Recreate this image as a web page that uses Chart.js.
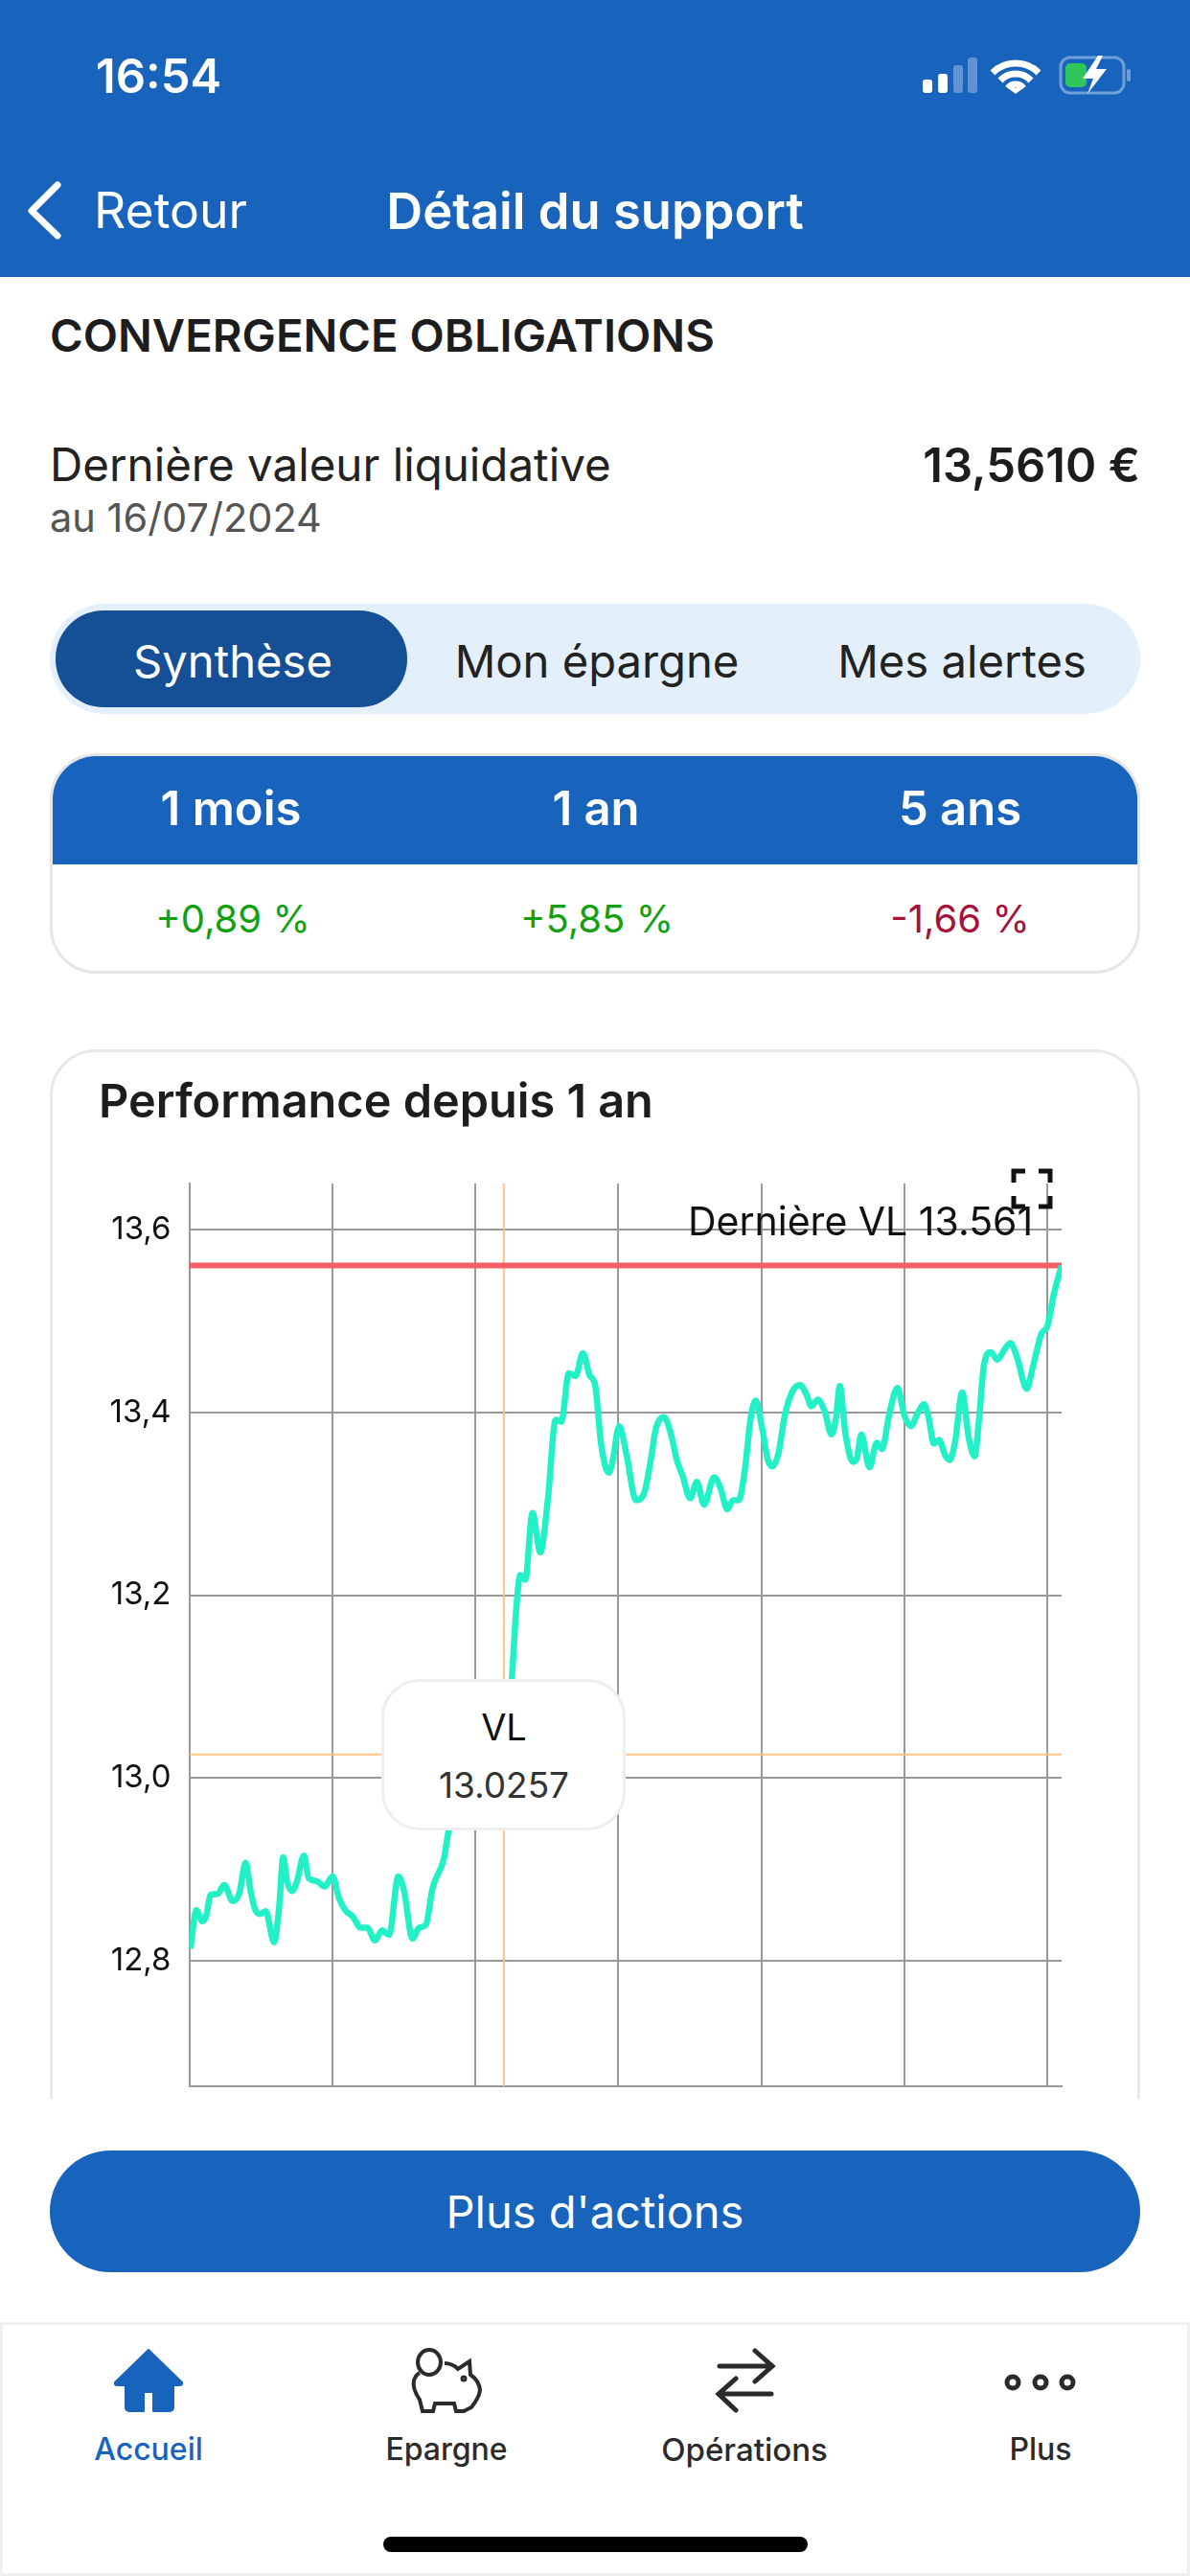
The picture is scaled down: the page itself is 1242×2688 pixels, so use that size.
<!DOCTYPE html>
<html lang="fr">
<head>
<meta charset="utf-8">
<title>Détail du support</title>
<script src="https://cdn.jsdelivr.net/npm/chart.js@4/dist/chart.umd.min.js"></script>
<style>
  html, body { margin: 0; padding: 0; background: #fff; }
  body { width: 1242px; height: 2688px; position: relative; overflow: hidden; font-family: Inter, "Noto Sans", sans-serif; color: #222; }
  .abs { position: absolute; white-space: nowrap; line-height: 1; }
  .mid { transform: translate(-50%, -50%); }
  .vmid { transform: translateY(-50%); }
  .box { position: absolute; box-sizing: border-box; }
  svg { position: absolute; overflow: visible; }
  #chartCanvas { position: absolute; left: 60px; top: 1205px; }
</style>
</head>
<body>
  <!-- header -->
  <div class="box" style="left:0;top:0;width:1242px;height:289px;background:#1864bc"></div>
  <div class="abs vmid" style="left:100px;top:79px;font-size:49px;font-weight:600;color:#fff">16:54</div>
  <svg style="left:0;top:0" width="1242" height="289">
    <rect x="963" y="83" width="10" height="14" rx="3" fill="#fff"/>
    <rect x="979" y="77" width="10" height="20" rx="3" fill="#fff"/>
    <rect x="995" y="68" width="10" height="29" rx="3" fill="#5f93d2"/>
    <rect x="1010" y="60" width="10" height="37" rx="3" fill="#5f93d2"/>
    <path d="M1036 76 a34 34 0 0 1 48 0 M1044 84 a22 22 0 0 1 32 0 M1052 92 a10 10 0 0 1 16 0" fill="none" stroke="#fff" stroke-width="7"/>
    <path d="M1053 96 h14 l-7 0 z M1052 92 l8 6 l8 -6 z" fill="#fff"/>
    <rect x="1107" y="60" width="66" height="37" rx="10" fill="none" stroke="#6f9fd8" stroke-width="3"/>
    <rect x="1176" y="72" width="4" height="13" rx="2" fill="#6f9fd8"/>
    <rect x="1112" y="66" width="22" height="25" rx="5" fill="#2fc65a"/>
    <path d="M1146 58 l-16 24 h11 l-6 16 l20 -26 h-11 l7 -14 z" fill="#fff"/>
    <path d="M60 193 L33 220 L60 246" fill="none" stroke="#fff" stroke-width="7" stroke-linecap="round" stroke-linejoin="round"/>
  </svg>
  <div class="abs vmid" style="left:98px;top:220px;font-size:51.7px;color:#fff">Retour</div>
  <div class="abs mid" style="left:621px;top:220px;font-size:52.5px;font-weight:600;color:#fff">Détail du support</div>

  <!-- fund header -->
  <div class="abs vmid" style="left:52px;top:350px;font-size:47.2px;font-weight:600;color:#1d1d1f">CONVERGENCE OBLIGATIONS</div>
  <div class="abs vmid" style="left:52px;top:485px;font-size:47.5px;color:#222">Dernière valeur liquidative</div>
  <div class="abs vmid" style="left:52px;top:541px;font-size:41.5px;color:#555">au 16/07/2024</div>
  <div class="abs vmid" style="right:52px;top:485px;font-size:49px;font-weight:600;color:#1d1d1f">13,5610 €</div>

  <!-- segmented control -->
  <div class="box" style="left:52px;top:630px;width:1138px;height:115px;border-radius:58px;background:#e3effb"></div>
  <div class="box" style="left:58px;top:637px;width:367px;height:101px;border-radius:50px;background:#154f96"></div>
  <div class="abs mid" style="left:243px;top:690px;font-size:47.2px;color:#fff">Synthèse</div>
  <div class="abs mid" style="left:623px;top:690px;font-size:47.2px;color:#222">Mon épargne</div>
  <div class="abs mid" style="left:1004px;top:690px;font-size:47.2px;color:#222">Mes alertes</div>

  <!-- performance table -->
  <div class="box" style="left:52px;top:786px;width:1138px;height:230px;border-radius:48px;border:3px solid #e6e6e6;overflow:hidden;background:#fff">
    <div style="position:absolute;left:-3px;top:-3px;width:1138px;height:116px;background:#1864bc"></div>
  </div>
  <div class="abs mid" style="left:241px;top:843px;font-size:49px;font-weight:600;color:#fff">1 mois</div>
  <div class="abs mid" style="left:622px;top:843px;font-size:49px;font-weight:600;color:#fff">1 an</div>
  <div class="abs mid" style="left:1002px;top:843px;font-size:49px;font-weight:600;color:#fff">5 ans</div>
  <div class="abs mid" style="left:243px;top:959px;font-size:40px;color:#12a012">+0,89 %</div>
  <div class="abs mid" style="left:623px;top:959px;font-size:40px;color:#12a012">+5,85 %</div>
  <div class="abs mid" style="left:1002px;top:959px;font-size:40px;color:#a5123a">-1,66 %</div>

  <!-- chart card, the bottom border is cut by the scroll area -->
  <div class="box" style="left:52px;top:1095px;width:1138px;height:1095px;overflow:hidden">
    <div class="box" style="left:0;top:0;width:1138px;height:1200px;border-radius:48px;border:3px solid #e8e8e8"></div>
  </div>
  <div class="abs vmid" style="left:103px;top:1149px;font-size:48.6px;font-weight:600;color:#1d1d1f">Performance depuis 1 an</div>

  <canvas id="chartCanvas" width="1060" height="995"></canvas>

  <div class="abs" id="lastLabel" style="left:718px;top:1254px;font-size:41px;color:#111"></div>
  <svg style="left:0;top:0" width="1242" height="1300">
    <path d="M1058 1234 V1222 H1070 M1084 1222 H1096 V1234 M1096 1248 V1259 H1084 M1070 1259 H1058 V1248" fill="none" stroke="#111" stroke-width="5"/>
  </svg>

  <!-- crosshair tooltip -->
  <div class="box" style="left:398px;top:1752px;width:255px;height:158px;border-radius:40px;background:#fff;border:3px solid #eee"></div>
  <div class="abs mid" style="left:526px;top:1802px;font-size:38px;color:#111">VL</div>
  <div class="abs mid" id="tipValue" style="left:526px;top:1862px;font-size:37px;color:#333"></div>

  <!-- action button -->
  <div class="box" style="left:52px;top:2244px;width:1138px;height:127px;border-radius:64px;background:#1864bc"></div>
  <div class="abs mid" style="left:621px;top:2307px;font-size:47px;color:#fff">Plus d'actions</div>

  <!-- tab bar -->
  <div class="box" style="left:0;top:2423px;width:1242px;height:265px;border:3px solid #f0f0f0;background:#fff"></div>
  <svg style="left:0;top:2400px" width="1242" height="288">
    <path d="M155 52 L190 86 Q191 89 187 89 H181 V112 Q181 116 176 116 H160 V96 H150 V116 H136 Q131 116 131 112 V89 H123 Q119 89 120 86 Z" fill="#1864bc" stroke="#1864bc" stroke-width="2" stroke-linejoin="round"/>
    <g fill="none" stroke="#2b2b2b" stroke-width="4">
      <ellipse cx="448" cy="65" rx="12" ry="13"/>
      <path d="M464 66 Q472 66 478 72 L490 64 L491 78 Q500 84 501 94 Q500 102 492 112 L484 116 H476 L474 108 H454 L452 116 H441 L438 104 Q430 92 432 84 Q434 78 438 76"/>
      <circle cx="484" cy="82" r="1.5"/>
    </g>
    <g fill="none" stroke="#2b2b2b" stroke-width="5" stroke-linecap="round">
      <path d="M751 69 H806 M788 53 L806 69 L788 85"/>
      <path d="M805 98 H750 M768 82 L750 98 L768 115"/>
    </g>
    <g fill="none" stroke="#2b2b2b" stroke-width="5">
      <circle cx="1057" cy="86" r="6"/><circle cx="1086" cy="86" r="6"/><circle cx="1114" cy="86" r="6"/>
    </g>
  </svg>
  <div class="abs mid" style="left:155px;top:2556px;font-size:32px;font-weight:500;color:#1864bc">Accueil</div>
  <div class="abs mid" style="left:466px;top:2556px;font-size:32px;font-weight:500;color:#2b2b2b">Epargne</div>
  <div class="abs mid" style="left:777px;top:2556px;font-size:33px;font-weight:500;color:#2b2b2b">Opérations</div>
  <div class="abs mid" style="left:1086px;top:2556px;font-size:32px;font-weight:500;color:#2b2b2b">Plus</div>
  <div class="box" style="left:400px;top:2647px;width:443px;height:16px;border-radius:8px;background:#000"></div>

<script>
// values, days since the start of the 1 year window
const days = [
  0.5, 3, 5.5, 7, 9, 12, 14.6, 18.2, 21, 23.6, 25.7, 27.7, 29.6, 32, 35.5, 37.6, 39.3, 41, 43, 45,
  48, 50, 53.4, 56.6, 60, 62.6, 65.3, 68.5, 71.7, 74.5, 77.7, 80.7, 83.6, 87.5, 89.9, 93.4, 96.2, 99, 101.8, 106.5,
  108.6, 113, 120, 126, 131.6, 135, 136.8, 138.5, 140.6, 143.6, 146.9, 150.1, 153.3, 155.7, 158.8, 161.7, 164.7, 167.5, 169.9, 172.3,
  175.5, 177, 179.9, 183.1, 186.9, 190.5, 192.9, 195.3, 198.6, 201.6, 204, 206.4, 209.6, 212.4, 215.4, 219.6, 222.3, 225.1, 227.5, 229.9,
  232.5, 234.9, 237, 239.7, 242.1, 244.1, 246.5, 249.2, 252.4, 255.5, 258.2, 260.3, 263, 265.9, 268.7, 270.6, 272.2, 274.6, 277.7, 279.3,
  281.2, 284.6, 287.7, 289.9, 292.8, 296.3, 299.2, 302, 304.7, 307.4, 309.4, 311.5, 313.7, 316.3, 318.2, 320.5, 323.4, 326.1, 328.6, 330.5,
  332.4, 335.3, 338.1, 341.1, 343.5, 346.4, 350.4, 353, 356.5, 359.1, 361.8, 365
];
const vlValues = [
  12.813, 12.855, 12.843, 12.848, 12.872, 12.873, 12.883, 12.865, 12.874, 12.907, 12.876, 12.855, 12.851, 12.854, 12.82, 12.858, 12.913, 12.886, 12.876, 12.886,
  12.915, 12.89, 12.887, 12.881, 12.892, 12.869, 12.855, 12.848, 12.836, 12.836, 12.822, 12.833, 12.828, 12.892, 12.876, 12.824, 12.836, 12.839, 12.879, 12.911,
  12.942, 12.962, 12.99, 13.01, 13.0257, 13.11, 13.184, 13.222, 13.217, 13.29, 13.247, 13.306, 13.392, 13.39, 13.443, 13.44, 13.465, 13.441, 13.429, 13.366,
  13.334, 13.345, 13.385, 13.352, 13.304, 13.313, 13.345, 13.383, 13.395, 13.376, 13.348, 13.331, 13.306, 13.324, 13.299, 13.329, 13.317, 13.294, 13.304, 13.304,
  13.338, 13.394, 13.413, 13.383, 13.348, 13.341, 13.355, 13.397, 13.423, 13.43, 13.42, 13.407, 13.414, 13.401, 13.376, 13.394, 13.429, 13.376, 13.346, 13.35,
  13.376, 13.34, 13.367, 13.36, 13.397, 13.427, 13.397, 13.385, 13.399, 13.409, 13.394, 13.366, 13.37, 13.353, 13.348, 13.369, 13.422, 13.373, 13.352, 13.394,
  13.45, 13.466, 13.458, 13.469, 13.476, 13.46, 13.426, 13.45, 13.486, 13.495, 13.53, 13.561
];
const yTicks = [12.8, 13.0, 13.2, 13.4, 13.6];
const xTicks = [0, 59.85, 119.7, 179.55, 239.4, 299.25, 359.1];
const yMin = 12.662;
const yMax = 13.6507;
const xMax = 365;
const lastVL = 13.561;
const crossDay = 131.6;
const crossVL = 13.0257;

document.getElementById('lastLabel').textContent = `Dernière VL ${lastVL}`;
document.getElementById('tipValue').textContent = crossVL.toFixed(4);

const ctx = document.getElementById('chartCanvas');

new Chart(ctx, {
  type: 'line',
  data: {
    datasets: [
      {
        label: 'Dernière VL',
        data: [{ x: 0, y: lastVL }, { x: xMax, y: lastVL }],
        borderColor: '#f56068',
        borderWidth: 6,
        pointRadius: 0,
        order: 2
      },
      {
        label: 'Repère VL',
        data: [{ x: 0, y: crossVL }, { x: xMax, y: crossVL }],
        borderColor: '#ffc384',
        borderWidth: 2,
        pointRadius: 0,
        order: 3
      },
      {
        label: 'Repère date',
        data: [{ x: crossDay, y: yMin }, { x: crossDay, y: yMax }],
        borderColor: '#ffc384',
        borderWidth: 2,
        pointRadius: 0,
        order: 3
      },
      {
        label: 'VL',
        data: days.map((d, i) => ({ x: d, y: vlValues[i] })),
        borderColor: '#22f0c6',
        borderWidth: 6.5,
        pointRadius: 0,
        cubicInterpolationMode: 'monotone',
        order: 1
      }
    ]
  },
  options: {
    responsive: false,
    animation: false,
    devicePixelRatio: 1,
    layout: { padding: { left: 0, right: 12, top: 30, bottom: 22.7 } },
    plugins: { legend: { display: false }, tooltip: { enabled: false } },
    scales: {
      x: {
        type: 'linear',
        min: 0,
        max: xMax,
        afterBuildTicks: (scale) => { scale.ticks = xTicks.map(value => ({ value })); },
        afterFit: (scale) => { scale.height = 0; scale.paddingLeft = 0; scale.paddingRight = 0; },
        grid: { color: '#999', lineWidth: 2, drawTicks: false },
        border: { color: '#999', width: 2 },
        ticks: { display: false }
      },
      y: {
        min: yMin,
        max: yMax,
        afterBuildTicks: (scale) => { scale.ticks = yTicks.map(value => ({ value })); },
        afterFit: (scale) => { scale.width = 137.5; scale.paddingTop = 0; scale.paddingBottom = 0; },
        grid: { color: '#999', lineWidth: 2, drawTicks: false },
        border: { color: '#999', width: 2 },
        ticks: {
          color: '#111',
          padding: 19,
          font: { family: 'Inter', size: 33 },
          callback: (value) => value.toFixed(1).replace('.', ',')
        }
      }
    }
  }
});
</script>
</body>
</html>
